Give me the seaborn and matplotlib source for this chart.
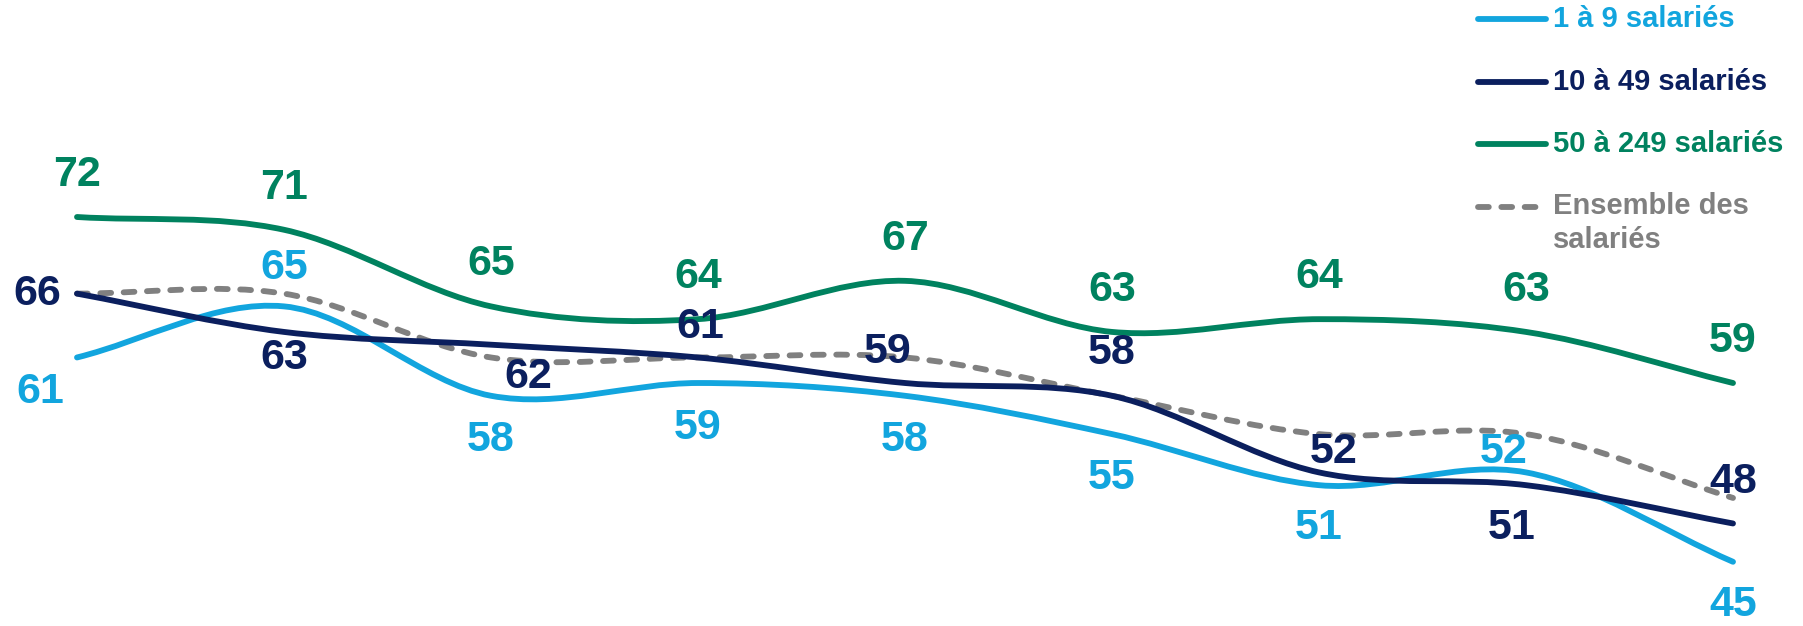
import numpy as np
import pandas as pd
import seaborn as sns
import matplotlib.pyplot as plt
from matplotlib.path import Path
from matplotlib.patches import PathPatch
from matplotlib.lines import Line2D

# Data
periods = list(range(9))
series_names = ['1 à 9 salariés', '10 à 49 salariés', '50 à 249 salariés', 'Ensemble des salariés']
small = [61, 65, 58, 59, 58, 55, 51, 52, 45]
medium = [66, 63, 62, 61, 59, 58, 52, 51, 48]
large = [72, 71, 65, 64, 67, 63, 64, 63, 59]
overall = [66, 66, 61, 61, 61, 58, 55, 55, 50]

df = pd.DataFrame({'period': periods, series_names[0]: small, series_names[1]: medium,
                   series_names[2]: large, series_names[3]: overall})

colors = {series_names[0]: '#12A5DE', series_names[1]: '#0B1F5E',
          series_names[2]: '#00825F', series_names[3]: '#808080'}

# label offsets in pixels (dx right, dy down), None = no labels
label_offsets = {
    series_names[0]: [(-37, 35), (0, -38), (0, 44), (0, 45), (0, 44), (0, 44), (0, 43), (-22, -20), (0, 43)],
    series_names[1]: [(-40, 0), (0, 26), (37, 32), (2, -30), (-17, -31), (0, -43), (15, -20), (-14, 43), (0, -41)],
    series_names[2]: [(0, -42)] * 9,
    series_names[3]: None,
}

sns.set_theme(style='white')
plt.rcParams['font.family'] = ['Liberation Sans', 'DejaVu Sans']
plt.rcParams['font.weight'] = 'bold'

W, H = 1803, 626
fig = plt.figure(figsize=(W / 100, H / 100), dpi=100)
ax = fig.add_axes([0, 0, 1, 1])
ax.axis('off')

# pixel calibration: x0 at 77px, step 207px ; 72 at 217px, 12.77px per unit
x_px0, x_step = 77, 207
y_ref, y_px_ref, y_unit = 72, 217, 12.77
ax.set_xlim(-x_px0 / x_step, (W - x_px0) / x_step)
ax.set_ylim(y_ref - (H - y_px_ref) / y_unit, y_ref + y_px_ref / y_unit)


def smooth_path(xs, ys):
    pts = np.column_stack([xs, ys]).astype(float)
    n = len(pts)
    tan = np.zeros_like(pts)
    tan[0] = pts[1] - pts[0]
    tan[-1] = pts[-1] - pts[-2]
    tan[1:-1] = (pts[2:] - pts[:-2]) / 2
    verts = [pts[0]]
    codes = [Path.MOVETO]
    for i in range(n - 1):
        verts += [pts[i] + tan[i] / 3, pts[i + 1] - tan[i + 1] / 3, pts[i + 1]]
        codes += [Path.CURVE4] * 3
    return Path(verts, codes)


lw = 4.2
dash = (0, (1.85, 2.15))
for name in series_names:
    dashed = name == series_names[3]
    patch = PathPatch(smooth_path(df['period'], df[name]), facecolor='none',
                      edgecolor=colors[name], lw=lw,
                      linestyle=dash if dashed else '-',
                      capstyle='round', joinstyle='round',
                      zorder=2 if dashed else 3)
    ax.add_patch(patch)
    offs = label_offsets[name]
    if offs is None:
        continue
    for x, y, (dx, dy) in zip(df['period'], df[name], offs):
        ax.annotate(str(y), (x, y), xytext=(dx * 0.72, -dy * 0.72), textcoords='offset points',
                    ha='center', va='center', fontsize=31, fontweight='bold',
                    color=colors[name], zorder=5)

# legend drawn in figure pixels
leg_y = [19, 82, 144, 207]
leg_labels = ['1 à 9 salariés', '10 à 49 salariés', '50 à 249 salariés', 'Ensemble des\nsalariés']
for name, lab, yy in zip(series_names, leg_labels, leg_y):
    dashed = name == series_names[3]
    fy = 1 - yy / H
    ln = Line2D([1478 / W, 1546 / W], [fy, fy], transform=fig.transFigure,
                color=colors[name], lw=lw, solid_capstyle='round', dash_capstyle='round',
                linestyle=dash if dashed else '-')
    fig.add_artist(ln)
    if dashed:
        fig.text(1553 / W, 1 - (yy - 15) / H, lab, ha='left', va='top', fontsize=21,
                 fontweight='bold', color=colors[name], linespacing=1.25)
    else:
        fig.text(1553 / W, fy, lab, ha='left', va='center', fontsize=21,
                 fontweight='bold', color=colors[name])

fig.savefig('out.png', dpi=100, facecolor='white')
